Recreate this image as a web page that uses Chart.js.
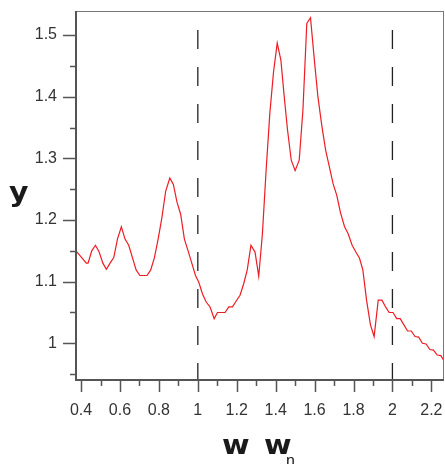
<!DOCTYPE html>
<html>
<head>
<meta charset="utf-8">
<script src="https://cdn.jsdelivr.net/npm/chart.js@4/dist/chart.umd.min.js"></script>
<style>
  html, body { margin: 0; padding: 0; background: #fff; }
  canvas { display: block; }
</style>
</head>
<body>
<canvas id="respChart" width="445" height="464"></canvas>
<script>
// frequency ratio (x) and response (y) of the curve
var freq = [0.374, 0.427, 0.436, 0.455, 0.474, 0.493, 0.512, 0.530, 0.549, 0.568,
    0.587, 0.607, 0.626, 0.645, 0.664, 0.683, 0.702, 0.739, 0.758, 0.777,
    0.796, 0.815, 0.835, 0.856, 0.874, 0.893, 0.912, 0.931, 0.950, 0.969,
    0.988, 1.005, 1.024, 1.043, 1.063, 1.084, 1.101, 1.140, 1.159, 1.178,
    1.198, 1.217, 1.236, 1.254, 1.273, 1.294, 1.313, 1.332, 1.351, 1.370,
    1.389, 1.408, 1.427, 1.444, 1.461, 1.480, 1.500, 1.521, 1.540, 1.560,
    1.579, 1.599, 1.617, 1.638, 1.657, 1.676, 1.695, 1.714, 1.733, 1.754,
    1.772, 1.793, 1.812, 1.831, 1.848, 1.867, 1.887, 1.906, 1.927, 1.946,
    1.965, 1.983, 2.003, 2.022, 2.040, 2.059, 2.078, 2.097, 2.116, 2.135,
    2.154, 2.173, 2.192, 2.211, 2.230, 2.249, 2.268];
var resp = [1.150, 1.130, 1.130, 1.150, 1.159, 1.148, 1.130, 1.120, 1.130, 1.139,
    1.169, 1.189, 1.169, 1.159, 1.139, 1.119, 1.110, 1.110, 1.119, 1.139,
    1.169, 1.203, 1.247, 1.268, 1.258, 1.229, 1.209, 1.169, 1.150, 1.130,
    1.110, 1.099, 1.080, 1.067, 1.059, 1.040, 1.050, 1.050, 1.059, 1.059,
    1.069, 1.078, 1.097, 1.119, 1.159, 1.148, 1.109, 1.178, 1.281, 1.373,
    1.440, 1.487, 1.459, 1.400, 1.346, 1.297, 1.280, 1.297, 1.378, 1.519,
    1.528, 1.459, 1.400, 1.351, 1.313, 1.286, 1.259, 1.240, 1.212, 1.189,
    1.178, 1.159, 1.148, 1.138, 1.119, 1.070, 1.030, 1.011, 1.070, 1.070,
    1.059, 1.050, 1.050, 1.040, 1.040, 1.030, 1.020, 1.020, 1.011, 1.010,
    1.000, 0.999, 0.990, 0.989, 0.981, 0.980, 0.970];

// dashed reference lines at w/wn = 1 and 2
var markers = [1, 2];
var markerTop = 1.508;

var xMin = 0.374, xMax = 2.265, xStep = 0.2;
var yMin = 0.9405, yMax = 1.539, yStep = 0.1;

var curve = freq.map(function (f, i) { return { x: f, y: resp[i] }; });

var datasets = [{
    data: curve,
    borderColor: 'rgb(238,28,36)',
    borderWidth: 1.2,
    pointRadius: 0,
    tension: 0
}];
markers.forEach(function (m) {
    datasets.push({
        data: [{ x: m, y: markerTop }, { x: m, y: yMin }],
        borderColor: '#222',
        borderWidth: 1.3,
        borderDash: [19, 18],
        pointRadius: 0
    });
});

function fmt(v) { return String(Number(v.toFixed(2))); }

// keep the plot box fixed: no extra room for edge labels
function fixBox(size, horizontal) {
    return function (s) {
        if (horizontal) s.height = size; else s.width = size;
        s.paddingLeft = s.paddingRight = s.paddingTop = s.paddingBottom = 0;
    };
}

// wide bold glyph for the axis titles
function wideText(ctx, txt, x, y) {
    ctx.save();
    ctx.translate(x, y);
    ctx.scale(1.15, 1);
    ctx.fillText(txt, 0, 0);
    ctx.restore();
}

// frame, major/minor ticks and the upright axis titles
var framePlugin = {
    id: 'frame',
    afterDraw: function (chart) {
        var ctx = chart.ctx, a = chart.chartArea;
        var xs = chart.scales.x, ys = chart.scales.y;
        ctx.save();
        ctx.strokeStyle = '#777';
        ctx.lineWidth = 1;
        ctx.beginPath();
        ctx.moveTo(a.left, a.top + 0.5); ctx.lineTo(a.right, a.top + 0.5);
        ctx.moveTo(a.right - 0.5, a.top); ctx.lineTo(a.right - 0.5, a.bottom);
        ctx.stroke();

        ctx.strokeStyle = '#555';
        ctx.lineWidth = 2;
        ctx.beginPath();
        ctx.moveTo(a.left, a.top); ctx.lineTo(a.left, a.bottom + 1);
        ctx.moveTo(a.left - 1, a.bottom); ctx.lineTo(a.right, a.bottom);
        ctx.stroke();

        ctx.lineWidth = 1.5;
        ctx.beginPath();
        xs.ticks.forEach(function (t) {
            var px = Math.round(xs.getPixelForValue(t.value)) + 0.5;
            ctx.moveTo(px, a.bottom); ctx.lineTo(px, a.bottom + 12);
            var mv = t.value + xStep / 2;
            if (mv < xMax) {
                var mx = Math.round(xs.getPixelForValue(mv)) + 0.5;
                ctx.moveTo(mx, a.bottom); ctx.lineTo(mx, a.bottom + 6);
            }
        });
        ys.ticks.forEach(function (t) {
            var py = Math.round(ys.getPixelForValue(t.value)) + 0.5;
            ctx.moveTo(a.left, py); ctx.lineTo(a.left - 13, py);
            [-yStep / 2, yStep / 2].forEach(function (d) {
                var mv = t.value + d;
                if (mv > yMin && mv < yMax) {
                    var my = Math.round(ys.getPixelForValue(mv)) + 0.5;
                    ctx.moveTo(a.left, my); ctx.lineTo(a.left - 6, my);
                }
            });
        });
        ctx.stroke();

        ctx.fillStyle = '#1a1a1a';
        ctx.textBaseline = 'alphabetic';
        ctx.textAlign = 'left';
        ctx.font = 'bold 26px "DejaVu Sans"';
        wideText(ctx, 'y', 9, 201);
        wideText(ctx, 'w', 222, 454);
        wideText(ctx, 'w', 264, 454);
        ctx.font = '16px "Liberation Sans"';
        ctx.fillText('n', 286, 466);
        ctx.restore();
    }
};

new Chart(document.getElementById('respChart').getContext('2d'), {
    type: 'line',
    data: { datasets: datasets },
    options: {
        responsive: false,
        animation: false,
        layout: { padding: { top: 11, right: 1, left: 0, bottom: 0 } },
        plugins: { legend: { display: false }, tooltip: { enabled: false } },
        scales: {
            x: {
                type: 'linear',
                min: xMin,
                max: xMax,
                grid: { display: false, drawTicks: false },
                border: { display: false },
                ticks: {
                    stepSize: xStep,
                    includeBounds: false,
                    autoSkip: false,
                    maxRotation: 0,
                    padding: 21,
                    color: '#333',
                    font: { family: 'Liberation Sans', size: 16 },
                    callback: function (v) { return fmt(v); }
                },
                afterFit: fixBox(84, true)
            },
            y: {
                type: 'linear',
                min: yMin,
                max: yMax,
                grid: { display: false, drawTicks: false },
                border: { display: false },
                ticks: {
                    stepSize: yStep,
                    includeBounds: false,
                    padding: 19,
                    color: '#333',
                    font: { family: 'Liberation Sans', size: 16 },
                    callback: function (v) { return fmt(v); }
                },
                afterFit: fixBox(76, false)
            }
        }
    },
    plugins: [framePlugin]
});
</script>
</body>
</html>
